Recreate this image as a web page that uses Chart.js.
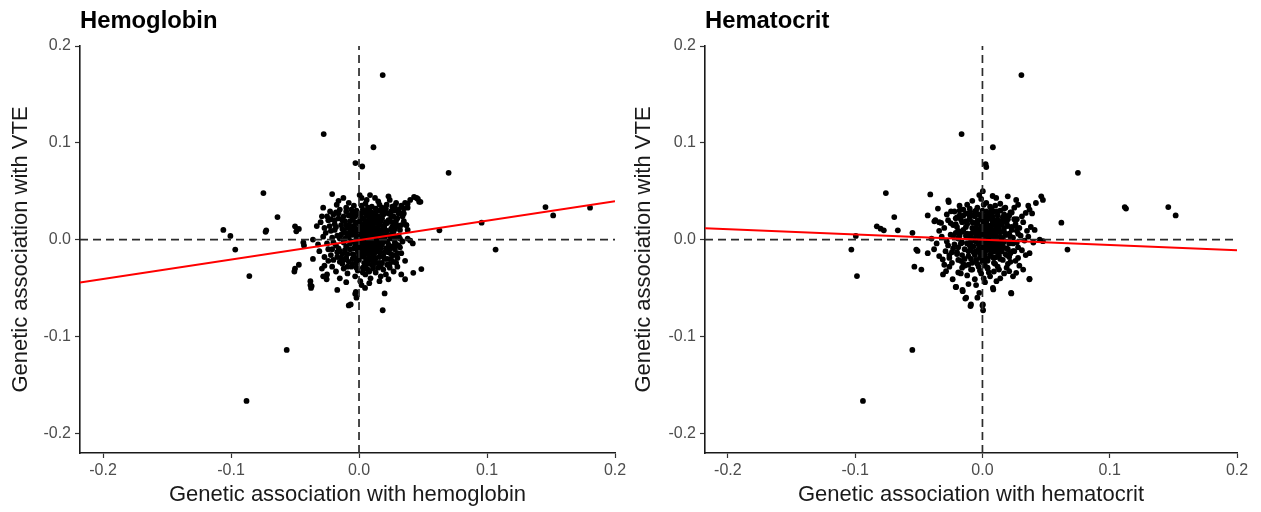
<!DOCTYPE html>
<html>
<head>
<meta charset="utf-8">
<script src="https://cdn.jsdelivr.net/npm/chart.js@4"></script>
<style>
  html,body{margin:0;padding:0;background:#fff;}
  #wrap{display:flex;width:1261px;height:512px;}
</style>
</head>
<body>
<div id="wrap">
  <canvas id="c1" width="630" height="512"></canvas>
  <canvas id="c2" width="631" height="512"></canvas>
</div>
<script>
// ---------- DATA ----------
const panelTitles = ["Hemoglobin", "Hematocrit"];
const xAxisTitles = ["Genetic association with hemoglobin", "Genetic association with hematocrit"];
const yAxisTitle = "Genetic association with VTE";
const tickValues = [-0.2, -0.1, 0.0, 0.1, 0.2];

// Hemoglobin panel: [beta_hemoglobin, beta_VTE]
const hgbPoints = [
  // outliers
  [0.0185,0.170],[-0.0276,0.109],[0.0113,0.0954],[-0.0028,0.079],[0.0025,0.0755],[0.070,0.069],
  [-0.0747,0.048],[-0.0637,0.0233],[-0.106,0.010],[-0.1005,0.0038],[-0.0967,-0.0103],
  [-0.0725,0.0096],[-0.073,0.008],[-0.0857,-0.0377],[0.1457,0.0336],[0.1517,0.025],[0.1805,0.033],
  [0.0958,0.0175],[0.1067,-0.0103],[0.0628,0.0096],[0.0487,-0.0305],[0.0424,-0.0343],[0.036,-0.041],
  [-0.0565,-0.114],[-0.0879,-0.1667],[0.0185,-0.073],[-0.008,-0.068],[-0.0065,-0.067],[0.020,-0.0556],
  [-0.002,-0.060],[-0.0025,-0.054],[0.0047,-0.050],[-0.017,-0.052],[-0.038,-0.047],[-0.0375,-0.050],
  [-0.050,-0.030],[-0.047,-0.026],[-0.0505,-0.033],[-0.043,-0.006],[-0.050,0.0137],[-0.049,0.0085],
  [-0.047,0.011],[0.046,0.042],[0.043,0.044],[0.048,0.039],[0.038,0.037],[0.035,0.032],[0.034,0.027],
  [0.040,-0.001],[0.038,0.001],[0.037,0.015],
  // upper cluster
  [-0.021,0.047],[0.0005,0.046],[0.002,0.043],[0.0086,0.046],[0.0125,0.043],[0.015,0.0395],[0.023,0.0447],
  [0.024,0.041],[0.0216,0.036],[-0.0122,0.043],[-0.0174,0.036],[-0.0226,0.029],[-0.025,0.024],[-0.008,0.038],
  [-0.004,0.035],[0.005,0.037],[0.010,0.034],[0.018,0.033],[0.028,0.030],[0.031,0.027],[0.034,0.024],
  [-0.015,0.031],[-0.010,0.029],[-0.002,0.030],[0.003,0.028],[0.008,0.031],[0.013,0.027],[0.020,0.028],
  [0.025,0.025],[-0.020,0.026],[-0.006,0.026],[0.016,0.036],[0.036,0.038],[0.040,0.041],[0.045,0.043],
  [0.047,0.039],[0.038,0.033],[0.033,0.035],[0.029,0.038],[-0.028,0.033],[-0.016,0.040],[0.006,0.041],
  // middle upper
  [-0.030,0.018],[-0.027,0.012],[-0.024,0.020],[-0.019,0.016],[-0.016,0.022],[-0.013,0.011],[-0.011,0.019],
  [-0.008,0.015],[-0.005,0.021],[-0.003,0.012],[0.000,0.018],[0.002,0.023],[0.004,0.010],[0.006,0.016],
  [0.008,0.021],[0.010,0.012],[0.012,0.019],[0.014,0.009],[0.016,0.015],[0.018,0.022],[0.020,0.011],
  [0.022,0.017],[0.024,0.020],[0.026,0.013],[0.029,0.016],[0.032,0.010],[0.035,0.019],[0.030,0.022],
  [-0.022,0.009],[-0.007,0.008],[0.001,0.014],[0.009,0.024],[0.015,0.024],[0.019,0.006],[0.027,0.008],
  [0.037,0.015],[0.038,0.010],[-0.033,0.014],[-0.014,0.005],[0.011,0.005],
  // center
  [-0.036,0.000],[-0.032,-0.005],[-0.028,0.003],[-0.025,-0.004],[-0.021,0.002],[-0.018,-0.006],[-0.015,0.001],
  [-0.012,-0.003],[-0.009,0.004],[-0.006,-0.002],[-0.004,0.006],[-0.001,-0.005],[0.001,0.002],[0.003,-0.007],
  [0.005,0.004],[0.007,-0.001],[0.009,0.007],[0.011,-0.004],[0.013,0.002],[0.015,-0.006],[0.017,0.003],
  [0.019,-0.002],[0.021,0.005],[0.023,-0.005],[0.025,0.001],[0.028,-0.003],[0.031,0.004],[0.034,-0.002],
  [0.042,-0.004],[-0.0435,-0.003],[0.006,0.000],[0.002,-0.002],[0.010,0.001],[-0.002,0.001],[0.004,0.007],
  [0.012,-0.008],[-0.010,-0.007],[0.026,0.007],
  // middle lower
  [-0.031,-0.012],[-0.027,-0.018],[-0.024,-0.010],[-0.020,-0.021],[-0.017,-0.013],[-0.014,-0.019],[-0.011,-0.011],
  [-0.008,-0.023],[-0.005,-0.015],[-0.002,-0.020],[0.000,-0.010],[0.002,-0.017],[0.004,-0.024],[0.006,-0.012],
  [0.008,-0.019],[0.010,-0.014],[0.012,-0.022],[0.014,-0.011],[0.016,-0.018],[0.018,-0.024],[0.020,-0.013],
  [0.022,-0.020],[0.025,-0.015],[0.028,-0.010],[0.030,-0.019],[0.033,-0.014],[0.036,-0.022],[0.029,-0.024],
  [-0.022,-0.016],[-0.004,-0.009],[0.003,-0.013],[0.009,-0.009],[0.017,-0.009],[0.024,-0.025],[0.032,-0.008],
  [-0.036,-0.020],[-0.013,-0.025],[0.007,-0.025],
  // lower
  [-0.029,-0.030],[-0.025,-0.036],[-0.028,-0.038],[-0.0253,-0.041],[-0.021,-0.028],[-0.018,-0.033],[-0.015,-0.040],
  [-0.012,-0.030],[-0.009,-0.035],[-0.006,-0.028],[-0.003,-0.038],[-0.001,-0.032],[0.001,-0.043],[0.003,-0.029],
  [0.005,-0.036],[0.007,-0.031],[0.009,-0.040],[0.011,-0.027],[0.013,-0.034],[0.015,-0.029],[0.017,-0.038],
  [0.019,-0.031],[0.021,-0.036],[0.024,-0.029],[0.027,-0.033],[0.030,-0.028],[0.033,-0.036],[-0.038,-0.043],
  [-0.037,-0.048],[-0.003,-0.056],[-0.010,-0.044],[0.002,-0.047],[0.008,-0.045],[0.016,-0.043],[0.023,-0.041],
  // dense core
  [-0.019,0.010],[-0.017,0.004],[-0.016,-0.009],[-0.014,0.015],[-0.013,-0.015],[-0.012,0.024],[-0.011,0.007],
  [-0.010,-0.019],[-0.009,0.012],[-0.009,-0.028],[-0.008,0.002],[-0.007,0.019],[-0.007,-0.010],[-0.006,0.031],
  [-0.005,0.005],[-0.005,-0.025],[-0.004,0.014],[-0.004,-0.016],[-0.003,0.024],[-0.003,-0.003],[-0.002,0.008],
  [-0.002,-0.029],[-0.001,0.017],[-0.001,-0.012],[0.000,0.027],[0.000,0.003],[0.000,-0.021],[0.001,0.009],
  [0.001,-0.006],[0.002,0.035],[0.002,0.016],[0.003,-0.010],[0.003,0.004],[0.003,-0.034],[0.004,0.021],
  [0.004,-0.018],[0.005,0.013],[0.005,-0.004],[0.005,-0.028],[0.006,0.025],[0.006,0.008],[0.007,-0.015],
  [0.007,0.033],[0.007,0.003],[0.008,-0.007],[0.008,0.014],[0.008,-0.033],[0.009,0.019],[0.009,-0.021],
  [0.010,0.028],[0.010,-0.002],[0.010,0.008],[0.011,-0.017],[0.011,0.015],[0.011,-0.030],[0.012,0.022],
  [0.012,0.001],[0.013,-0.012],[0.013,0.032],[0.013,0.006],[0.014,-0.024],[0.014,0.017],[0.015,-0.002],
  [0.015,0.011],[0.016,-0.013],[0.016,0.030],[0.017,0.019],[0.017,-0.027],[0.018,0.008],[0.018,-0.005],
  [0.019,0.026],[0.019,-0.017],[0.020,0.015],[0.020,0.001],[0.021,-0.009],[0.021,0.032],[0.022,0.009],
  [0.022,-0.026],[0.023,0.020],[0.023,-0.013],[0.024,0.004],[0.025,-0.020],[0.025,0.029],[0.026,0.018],
  [0.026,-0.007],[0.027,0.024],[0.027,-0.016],[0.028,0.011],[0.028,0.035],[0.029,-0.005],[0.030,0.014],
  [0.030,-0.014],[0.031,0.031],[0.032,0.001],[-0.018,0.028],[-0.015,-0.023],[-0.012,0.009],[-0.010,0.033],
  [-0.020,-0.003],[-0.022,0.021],[-0.024,-0.022],[-0.026,0.007],[-0.027,-0.027],[-0.029,0.024],
  [0.001,0.000],[0.004,0.002],[0.006,-0.003],[0.009,0.001],[0.002,0.005],[0.003,0.011],[0.008,0.004],
  [0.012,-0.003],[-0.001,0.003],[0.005,-0.009],[0.010,-0.011],[0.007,0.010],[0.014,0.004],[0.016,0.007],
  [-0.003,-0.007],[0.006,0.018],[0.011,0.020],[0.004,-0.014],[0.013,-0.019],[-0.006,0.013],
  [-0.018,0.013],[-0.016,0.027],[-0.015,-0.012],[-0.013,0.020],[-0.012,-0.021],[-0.011,0.001],[-0.010,0.015],
  [-0.009,-0.015],[-0.008,0.025],[-0.007,-0.004],[-0.006,0.010],[-0.005,-0.020],[-0.004,0.027],[-0.003,0.018],
  [-0.002,-0.024],[-0.001,0.010],[0.000,-0.016],[0.001,0.021],[0.002,-0.008],[0.003,0.031],[0.004,-0.030],
  [0.005,0.018],[0.006,-0.021],[0.007,0.006],[0.008,0.028],[0.009,-0.004],[0.010,-0.026],[0.011,0.024],
  [0.012,-0.014],[0.013,0.010],[0.014,-0.005],[0.015,0.021],[0.016,-0.024],[0.017,0.009],[0.018,0.028],
  [0.019,0.003],[0.020,-0.020],[0.021,0.018],[0.022,-0.002],[0.023,0.027],[0.024,-0.010],[0.025,0.011],
  [0.026,0.034],[0.027,-0.023],[0.028,0.002],[0.029,0.020],[0.031,-0.006],[0.033,0.015],[0.035,0.027],
  [-0.021,-0.010],[-0.023,0.014],[-0.019,0.020],[-0.017,-0.018],[0.000,0.010],[0.003,0.000],[0.008,-0.012],
  [0.014,0.012],[0.019,0.012],[-0.008,0.006],[0.006,0.030]
];

// Hematocrit panel: [beta_hematocrit, beta_VTE]
const hctPoints = [
  // outliers
  [0.0306,0.170],[-0.0164,0.109],[0.0082,0.0954],[0.0025,0.078],[0.003,0.075],[0.075,0.069],
  [-0.0759,0.048],[-0.0693,0.0233],[-0.083,0.0137],[-0.080,0.0113],[-0.0775,0.0096],[-0.0665,0.0096],
  [-0.055,0.007],[-0.0995,0.0038],[-0.103,-0.0103],[-0.0986,-0.0377],[-0.0551,-0.114],[-0.0939,-0.1667],
  [0.1118,0.0336],[0.1128,0.032],[0.146,0.0336],[0.1518,0.025],[0.062,0.0175],[0.0668,-0.0103],
  [0.0369,-0.041],[0.0227,-0.0556],[0.000,-0.068],[0.0005,-0.073],[-0.0094,-0.0686],[-0.0135,-0.061],
  [-0.0157,-0.052],[0.0085,-0.0515],[-0.021,-0.049],[-0.051,-0.0117],[-0.0535,-0.028],[-0.048,-0.031],
  [-0.043,-0.014],[-0.041,0.0467],[-0.0268,0.0405],[-0.0265,0.0388],[-0.035,0.032],[-0.043,0.025],
  [-0.037,0.020],[-0.034,0.018],
  // upper cluster
  [-0.0025,0.046],[0.0003,0.050],[0.0108,0.043],[0.0199,0.0447],[0.0265,0.041],[0.028,0.036],[0.0462,0.0447],
  [0.0475,0.041],[0.042,0.0378],[0.037,0.031],[0.034,0.0275],[-0.0247,0.0292],[-0.012,0.036],[-0.008,0.040],
  [-0.004,0.033],[0.003,0.038],[0.006,0.034],[0.009,0.029],[0.014,0.037],[0.017,0.032],[0.022,0.028],
  [0.025,0.033],[0.031,0.024],[-0.018,0.030],[-0.015,0.025],[-0.010,0.028],[-0.006,0.024],[0.000,0.030],
  [0.004,0.026],[0.012,0.025],[0.019,0.024],[0.027,0.021],[-0.021,0.022],[0.039,0.027],[0.036,0.035],
  [-0.001,0.042],[0.008,0.045],
  // middle upper
  [-0.0378,0.0189],[-0.0325,0.0172],[-0.030,0.012],[-0.027,0.020],[-0.023,0.015],[-0.019,0.009],[-0.016,0.018],
  [-0.013,0.013],[-0.010,0.021],[-0.007,0.010],[-0.004,0.016],[-0.001,0.022],[0.001,0.011],[0.003,0.018],
  [0.005,0.014],[0.007,0.021],[0.009,0.009],[0.011,0.016],[0.013,0.011],[0.015,0.019],[0.017,0.008],
  [0.020,0.014],[0.023,0.010],[0.026,0.016],[0.029,0.012],[0.032,0.018],[0.035,0.009],[0.038,0.013],
  [0.041,0.010],[-0.034,0.009],[-0.020,0.023],[0.002,0.006],[0.008,0.017],[0.018,0.020],[0.028,0.006],
  [-0.009,0.006],
  // center
  [-0.040,0.001],[-0.036,-0.004],[-0.032,0.003],[-0.028,-0.002],[-0.025,0.005],[-0.022,-0.005],[-0.019,0.002],
  [-0.016,-0.003],[-0.013,0.004],[-0.010,-0.006],[-0.008,0.001],[-0.005,-0.002],[-0.003,0.005],[-0.001,-0.004],
  [0.001,0.002],[0.003,-0.006],[0.005,0.003],[0.007,-0.002],[0.009,0.004],[0.011,-0.005],[0.013,0.001],
  [0.015,-0.003],[0.018,0.005],[0.021,-0.004],[0.024,0.002],[0.027,-0.003],[0.030,0.004],[0.033,-0.001],
  [0.036,0.003],[0.0475,-0.0017],[0.045,0.000],[0.040,-0.003],[0.002,0.000],[0.006,0.006],[-0.006,0.007],
  [0.004,-0.001],[0.010,0.000],
  // middle lower
  [-0.052,-0.0103],[-0.038,-0.010],[-0.034,-0.017],[-0.0312,-0.0206],[-0.029,-0.012],[-0.026,-0.019],
  [-0.023,-0.009],[-0.020,-0.015],[-0.017,-0.022],[-0.014,-0.010],[-0.011,-0.017],[-0.008,-0.024],[-0.005,-0.012],
  [-0.002,-0.019],[0.000,-0.009],[0.002,-0.015],[0.004,-0.022],[0.006,-0.011],[0.008,-0.018],[0.010,-0.025],
  [0.012,-0.013],[0.014,-0.020],[0.016,-0.009],[0.019,-0.016],[0.022,-0.023],[0.025,-0.012],[0.028,-0.019],
  [0.031,-0.011],[0.034,-0.016],[0.037,-0.014],[-0.015,-0.025],[0.001,-0.024],[0.011,-0.008],[0.020,-0.010],
  [-0.024,-0.024],
  // lower
  [-0.0286,-0.0326],[-0.0234,-0.041],[-0.0207,-0.049],[-0.0155,-0.0533],[-0.0128,-0.0601],[-0.009,-0.067],
  [-0.0025,-0.055],[-0.004,-0.060],[0.0003,-0.067],[0.0082,-0.0498],[0.0225,-0.055],[0.037,-0.0405],
  [0.0265,-0.0344],[0.021,-0.0326],[-0.026,-0.028],[-0.019,-0.034],[-0.016,-0.029],[-0.012,-0.037],
  [-0.009,-0.031],[-0.006,-0.041],[-0.003,-0.028],[-0.001,-0.035],[0.002,-0.044],[0.004,-0.030],[0.006,-0.038],
  [0.009,-0.033],[0.012,-0.028],[0.014,-0.040],[0.017,-0.035],[0.019,-0.029],[0.024,-0.038],[0.029,-0.027],
  [0.032,-0.031],[-0.031,-0.036],[-0.011,-0.046],[-0.005,-0.047],[0.001,-0.040],[0.011,-0.043],
  // dense core
  [-0.020,0.013],[-0.019,-0.008],[-0.018,0.004],[-0.017,0.021],[-0.016,-0.016],[-0.015,0.010],[-0.014,-0.027],
  [-0.013,0.027],[-0.012,-0.004],[-0.012,0.016],[-0.011,-0.012],[-0.010,0.003],[-0.010,0.032],[-0.009,-0.020],
  [-0.008,0.012],[-0.008,-0.031],[-0.007,0.025],[-0.007,-0.007],[-0.006,0.017],[-0.006,-0.016],[-0.005,0.004],
  [-0.005,0.030],[-0.004,-0.025],[-0.004,0.010],[-0.003,-0.010],[-0.003,0.020],[-0.002,0.001],[-0.002,-0.032],
  [-0.001,0.014],[-0.001,-0.018],[0.000,0.025],[0.000,0.005],[0.000,-0.014],[0.001,0.036],[0.001,-0.003],
  [0.002,0.019],[0.002,-0.027],[0.003,0.009],[0.003,-0.011],[0.003,0.029],[0.004,0.003],[0.004,-0.020],
  [0.005,0.022],[0.005,-0.005],[0.005,-0.034],[0.006,0.012],[0.006,-0.016],[0.007,0.031],[0.007,0.001],
  [0.008,-0.009],[0.008,0.024],[0.009,-0.024],[0.009,0.015],[0.010,-0.001],[0.010,0.035],[0.011,0.007],
  [0.011,-0.018],[0.012,0.020],[0.012,-0.006],[0.013,-0.031],[0.013,0.014],[0.014,0.003],[0.014,0.030],
  [0.015,-0.012],[0.016,0.023],[0.016,-0.021],[0.017,0.012],[0.017,-0.002],[0.018,0.033],[0.019,-0.009],
  [0.019,0.017],[0.020,-0.025],[0.021,0.006],[0.021,0.025],[0.022,-0.014],[0.023,0.013],[0.024,-0.004],
  [0.025,0.021],[0.026,-0.022],[0.027,0.009],[-0.022,0.029],[-0.024,-0.013],[-0.025,0.017],[-0.027,-0.006],
  [-0.028,0.026],[-0.030,-0.026],[-0.021,0.007],[-0.019,-0.021],[-0.018,0.035],[-0.017,-0.035],
  [0.001,0.000],[0.003,0.003],[0.004,-0.002],[-0.001,0.002],[0.006,0.001],[0.002,0.007],[-0.003,-0.005],
  [0.005,0.010],[0.008,0.005],[0.007,-0.005],[-0.002,0.011],[0.001,-0.008],[0.009,-0.012],[-0.004,0.019],
  [0.011,0.011],[0.002,-0.019],[-0.006,-0.001],[0.012,0.002],[0.004,0.015],[-0.001,-0.013],
  [-0.021,0.016],[-0.020,-0.013],[-0.018,0.025],[-0.017,-0.004],[-0.016,0.008],[-0.014,-0.020],[-0.013,0.019],
  [-0.012,0.006],[-0.011,-0.026],[-0.010,0.024],[-0.009,-0.002],[-0.008,0.018],[-0.007,-0.013],[-0.006,0.029],
  [-0.005,-0.021],[-0.004,0.006],[-0.003,0.026],[-0.002,-0.014],[-0.001,0.008],[0.000,-0.023],[0.001,0.018],
  [0.002,-0.006],[0.003,0.022],[0.004,-0.029],[0.005,0.006],[0.006,0.027],[0.007,-0.012],[0.008,0.010],
  [0.009,-0.019],[0.010,0.020],[0.011,-0.003],[0.012,0.029],[0.013,-0.016],[0.014,0.008],[0.015,0.016],
  [0.016,-0.006],[0.017,0.026],[0.018,-0.015],[0.019,0.005],[0.020,0.021],[0.021,-0.018],[0.022,0.003],
  [0.023,0.028],[0.024,-0.012],[0.026,0.014],[0.028,-0.008],[-0.019,0.001],[-0.015,0.031],[-0.023,0.004],
  [-0.026,-0.016],[-0.001,0.000],[0.004,0.008],[0.006,-0.008],[0.010,0.004],[-0.005,0.012],[0.013,-0.009],
  [-0.009,-0.009],[0.002,0.013],[0.008,0.016],[0.016,0.001]
];

// Fitted regression lines (end points)
const hgbFit = [[-0.218,-0.0443],[0.2,0.0397]];
const hctFit = [[-0.218,0.0117],[0.2,-0.0110]];

// Axis limits
const xLimits = [-0.218, 0.2];
const yLimits = [-0.2205, 0.2];

// ---------- DRAWING ----------
const FONT = '"Liberation Sans", Arial, Helvetica, sans-serif';

const titlePlugin = {
  id: 'panelTitle',
  afterDraw(chart, args, opts) {
    const ctx = chart.ctx;
    ctx.save();
    ctx.font = 'bold 23.8px ' + FONT;
    ctx.fillStyle = '#000';
    ctx.textBaseline = 'alphabetic';
    ctx.textAlign = 'left';
    ctx.fillText(opts.text, chart.chartArea.left, 28);
    ctx.restore();
  }
};

function makePanel(canvasId, title, xTitle, points, fit, yAxisW, padRight, yTitlePad) {
  const ctx = document.getElementById(canvasId);
  return new Chart(ctx, {
    type: 'scatter',
    data: {
      datasets: [
        { data: fit.map(p => ({x:p[0], y:p[1]})), showLine: true, borderColor: '#ff0000',
          borderWidth: 2, pointRadius: 0, fill: false },
        { data: [{x:0,y:yLimits[0]},{x:0,y:yLimits[1]}], showLine: true, borderColor: '#2b2b2b',
          borderWidth: 1.7, borderDash: [8,5], pointRadius: 0, fill: false },
        { data: [{x:xLimits[0],y:0},{x:xLimits[1],y:0}], showLine: true, borderColor: '#2b2b2b',
          borderWidth: 1.7, borderDash: [8,5], pointRadius: 0, fill: false },
        { data: points.map(p => ({x:p[0], y:p[1]})), backgroundColor: '#000', borderWidth: 0,
          pointRadius: 2.9, pointHoverRadius: 2.9 }
      ]
    },
    options: {
      responsive: false,
      animation: false,
      events: [],
      layout: { padding: { top: 46, right: padRight, left: 0, bottom: 0 } },
      plugins: { legend: { display: false }, tooltip: { enabled: false }, panelTitle: { text: title } },
      scales: {
        x: {
          type: 'linear', min: xLimits[0], max: xLimits[1],
          afterBuildTicks: s => { s.ticks = tickValues.map(v => ({value: v})); },
          afterFit: s => { s.height = 59; },
          ticks: { callback: v => v.toFixed(1), color: '#4d4d4d', font: { family: FONT, size: 16 }, padding: 3, maxRotation: 0 },
          grid: { display: true, drawOnChartArea: false, drawTicks: true, tickLength: 5, tickColor: '#333', tickWidth: 1.2 },
          border: { display: true, color: '#1a1a1a', width: 1.6 },
          title: { display: true, text: xTitle, color: '#1a1a1a', font: { family: FONT, size: 22 }, padding: { top: 0, bottom: 4 } }
        },
        y: {
          type: 'linear', min: yLimits[0], max: yLimits[1],
          afterBuildTicks: s => { s.ticks = tickValues.map(v => ({value: v})); },
          afterFit: s => { s.width = yAxisW; },
          ticks: { callback: v => v.toFixed(1), color: '#4d4d4d', font: { family: FONT, size: 16 }, padding: 4 },
          grid: { display: true, drawOnChartArea: false, drawTicks: true, tickLength: 5, tickColor: '#333', tickWidth: 1.2 },
          border: { display: true, color: '#1a1a1a', width: 1.6 },
          title: { display: true, text: yAxisTitle, color: '#1a1a1a', font: { family: FONT, size: 22 }, padding: { top: yTitlePad, bottom: 0 } }
        }
      }
    },
    plugins: [titlePlugin]
  });
}

makePanel('c1', panelTitles[0], xAxisTitles[0], hgbPoints, hgbFit, 80, 15, 8);
makePanel('c2', panelTitles[1], xAxisTitles[1], hctPoints, hctFit, 75, 24, 1);
</script>
</body>
</html>
